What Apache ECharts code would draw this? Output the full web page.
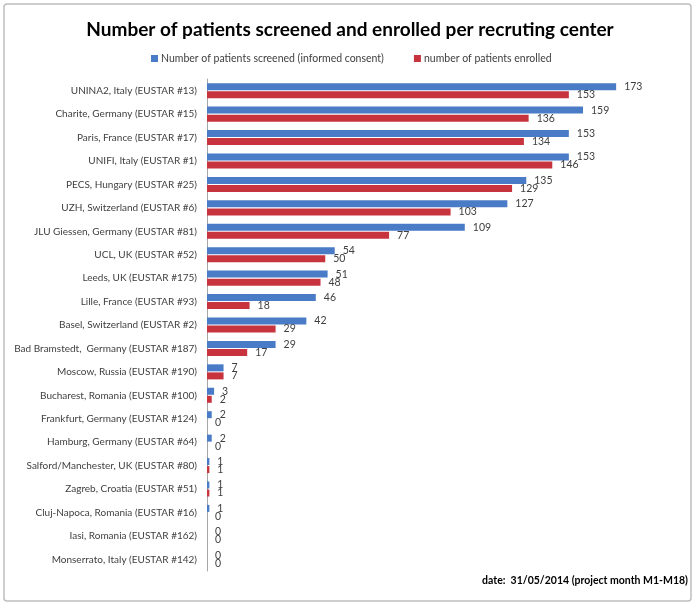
<!DOCTYPE html>
<html>
<head>
<meta charset="utf-8">
<script src="https://cdn.jsdelivr.net/npm/echarts@6/dist/echarts.min.js"></script>
<style>
  html, body { margin: 0; padding: 0; background: #fff; }
  #chart { width: 700px; height: 606px; }
</style>
</head>
<body>
<div id="chart"></div>
<script>
var centers = [
  'UNINA2, Italy (EUSTAR #13)',
  'Charite, Germany (EUSTAR #15)',
  'Paris, France (EUSTAR #17)',
  'UNIFI, Italy (EUSTAR #1)',
  'PECS, Hungary (EUSTAR #25)',
  'UZH, Switzerland (EUSTAR #6)',
  'JLU Giessen, Germany (EUSTAR #81)',
  'UCL, UK (EUSTAR #52)',
  'Leeds, UK (EUSTAR #175)',
  'Lille, France (EUSTAR #93)',
  'Basel, Switzerland (EUSTAR #2)',
  'Bad Bramstedt,  Germany (EUSTAR #187)',
  'Moscow, Russia (EUSTAR #190)',
  'Bucharest, Romania (EUSTAR #100)',
  'Frankfurt, Germany (EUSTAR #124)',
  'Hamburg, Germany (EUSTAR #64)',
  'Salford/Manchester, UK (EUSTAR #80)',
  'Zagreb, Croatia (EUSTAR #51)',
  'Cluj-Napoca, Romania (EUSTAR #16)',
  'Iasi, Romania (EUSTAR #162)',
  'Monserrato, Italy (EUSTAR #142)'
];
var screened = [173, 159, 153, 153, 135, 127, 109, 54, 51, 46, 42, 29, 7, 3, 2, 2, 1, 1, 1, 0, 0];
var enrolled = [153, 136, 134, 146, 129, 103, 77, 50, 48, 18, 29, 17, 7, 2, 0, 0, 1, 1, 0, 0, 0];

var chart = echarts.init(document.getElementById('chart'));
var font = 'Lato, "Open Sans", sans-serif';

var option = {
  backgroundColor: '#fff',
  animation: false,
  title: {
    text: 'Number of patients screened and enrolled per recruting center',
    left: 'center',
    top: 15,
    textStyle: { fontFamily: font, fontSize: 19, fontWeight: 'bold', color: '#000' }
  },
  legend: {
    top: 53,
    left: 151,
    padding: 0,
    itemWidth: 7,
    itemHeight: 7,
    itemGap: 30,
    icon: 'rect',
    textStyle: { fontFamily: font, fontSize: 10.5, color: '#404040', padding: [0, 0, 0, -2] },
    data: ['Number of patients screened (informed consent)', 'number of patients enrolled']
  },
  grid: { left: 207, right: 20, top: 79, bottom: 35, outerBoundsMode: 'none', containLabel: false },
  xAxis: {
    type: 'value',
    min: 0,
    max: 200,
    show: false
  },
  yAxis: {
    type: 'category',
    inverse: true,
    data: centers,
    axisLine: { show: true, lineStyle: { color: '#a6a6a6' } },
    axisTick: { show: false },
    axisLabel: { fontFamily: font, fontSize: 10, color: '#404040', margin: 10 }
  },
  series: [
    {
      name: 'Number of patients screened (informed consent)',
      type: 'bar',
      data: screened,
      barWidth: 7,
      barGap: '15%',
      itemStyle: { color: '#4a7bc6' },
      label: { show: true, position: 'right', distance: 8, fontFamily: font, fontSize: 10.5, color: '#404040' }
    },
    {
      name: 'number of patients enrolled',
      type: 'bar',
      data: enrolled,
      barWidth: 7,
      itemStyle: { color: '#c8343e' },
      label: { show: true, position: 'right', distance: 8, fontFamily: font, fontSize: 10.5, color: '#404040' }
    }
  ],
  graphic: [
    {
      type: 'rect',
      shape: { x: 4, y: 4, width: 687, height: 597, r: 3 },
      style: { fill: 'none', stroke: '#bfbfbf', lineWidth: 1.5 },
      silent: true
    },
    {
      type: 'text',
      right: 12,
      top: 575,
      style: {
        text: 'date:  31/05/2014 (project month M1-M18)',
        fontFamily: font,
        fontSize: 10.5,
        fontWeight: 'bold',
        fill: '#000'
      }
    }
  ]
};

chart.setOption(option);
</script>
</body>
</html>
